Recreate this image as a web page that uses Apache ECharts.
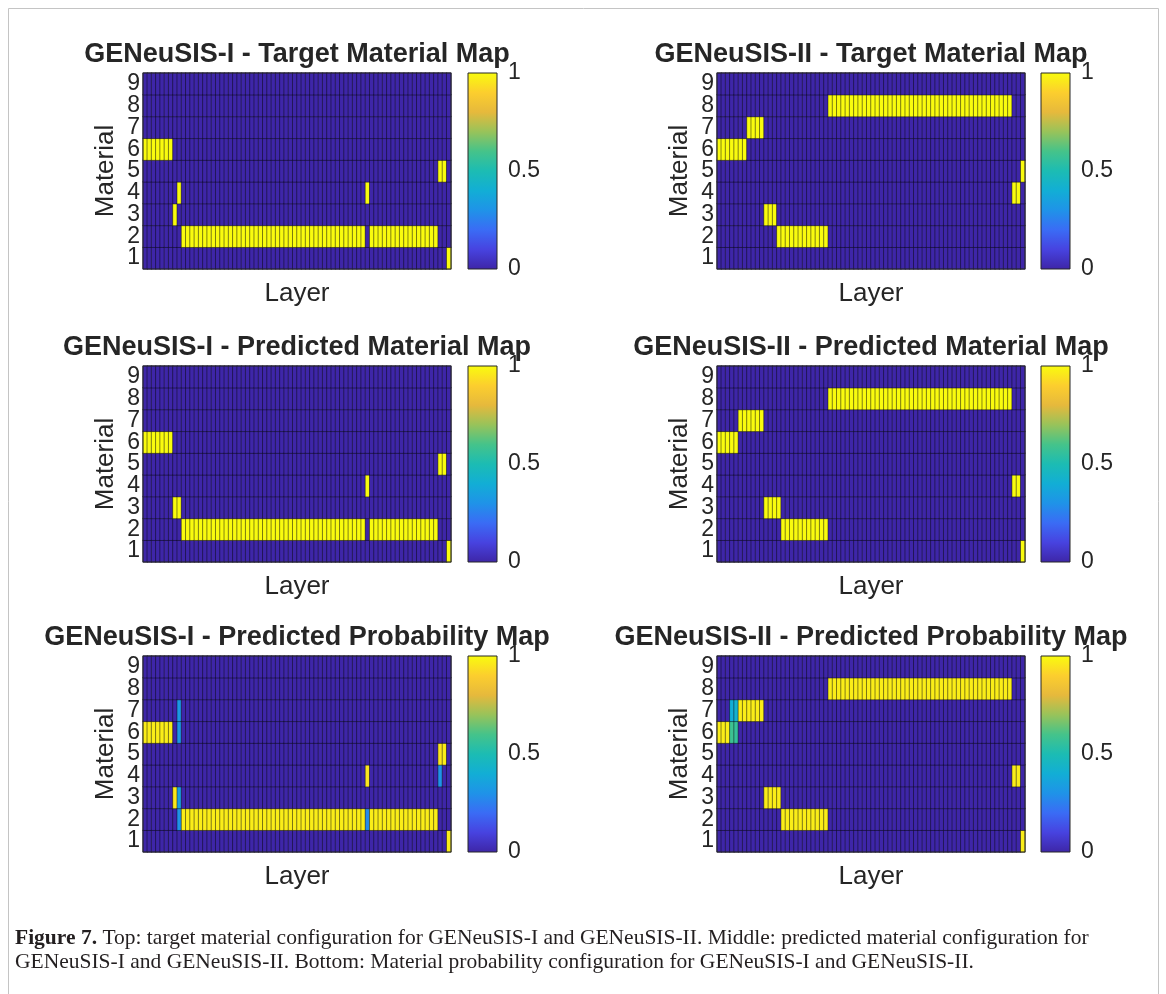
<!DOCTYPE html>
<html>
<head>
<meta charset="utf-8">
<script src="https://cdn.jsdelivr.net/npm/echarts@6/dist/echarts.min.js"></script>
<style>
html,body{margin:0;padding:0;background:#fff;}
#main{width:1166px;height:994px;}
</style>
</head>
<body>
<div id="main"></div>
<script>
// ---------------- DATA ----------------
const materials = ['1','2','3','4','5','6','7','8','9'];
const layerCount = 72;
const colorbarTicks = [0, 0.5, 1];

const titles = [
  'GENeuSIS-I - Target Material Map',
  'GENeuSIS-II - Target Material Map',
  'GENeuSIS-I - Predicted Material Map',
  'GENeuSIS-II - Predicted Material Map',
  'GENeuSIS-I - Predicted Probability Map',
  'GENeuSIS-II - Predicted Probability Map'
];

// material index per layer
const targetI = [
  6,6,6,6,6,6,6,3,4,2,
  2,2,2,2,2,2,2,2,2,2,
  2,2,2,2,2,2,2,2,2,2,
  2,2,2,2,2,2,2,2,2,2,
  2,2,2,2,2,2,2,2,2,2,
  2,2,4,2,2,2,2,2,2,2,
  2,2,2,2,2,2,2,2,2,5,
  5,1
];
const targetII = [
  6,6,6,6,6,6,6,7,7,7,
  7,3,3,3,2,2,2,2,2,2,
  2,2,2,2,2,2,8,8,8,8,
  8,8,8,8,8,8,8,8,8,8,
  8,8,8,8,8,8,8,8,8,8,
  8,8,8,8,8,8,8,8,8,8,
  8,8,8,8,8,8,8,8,8,4,
  4,5
];
const predI = [
  6,6,6,6,6,6,6,3,3,2,
  2,2,2,2,2,2,2,2,2,2,
  2,2,2,2,2,2,2,2,2,2,
  2,2,2,2,2,2,2,2,2,2,
  2,2,2,2,2,2,2,2,2,2,
  2,2,4,2,2,2,2,2,2,2,
  2,2,2,2,2,2,2,2,2,5,
  5,1
];
const predII = [
  6,6,6,6,6,7,7,7,7,7,
  7,3,3,3,3,2,2,2,2,2,
  2,2,2,2,2,2,8,8,8,8,
  8,8,8,8,8,8,8,8,8,8,
  8,8,8,8,8,8,8,8,8,8,
  8,8,8,8,8,8,8,8,8,8,
  8,8,8,8,8,8,8,8,8,4,
  4,1
];
// probability of the predicted (top) material per layer
const probTopI = [
  .97,.97,.97,.97,.97,.97,.97,.96,.35,.97,
  .97,.97,.97,.97,.97,.97,.97,.97,.97,.97,
  .97,.97,.97,.97,.97,.97,.97,.97,.97,.97,
  .97,.97,.97,.97,.97,.97,.97,.97,.97,.97,
  .97,.97,.97,.97,.97,.97,.97,.97,.97,.97,
  .97,.97,.95,.97,.97,.97,.97,.97,.97,.97,
  .97,.97,.97,.97,.97,.97,.97,.97,.97,.95,
  .97,.97
];
const probTopII = [
  .97,.97,.97,.58,.56,.97,.97,.97,.97,.97,
  .97,.97,.97,.97,.97,.97,.97,.97,.97,.97,
  .97,.97,.97,.97,.97,.97,.97,.97,.97,.97,
  .97,.97,.97,.97,.97,.97,.97,.97,.97,.97,
  .97,.97,.97,.97,.97,.97,.97,.97,.97,.97,
  .97,.97,.97,.97,.97,.97,.97,.97,.97,.97,
  .97,.97,.97,.97,.97,.97,.97,.97,.97,.97,
  .97,.97
];
// secondary probabilities: [layer index, material, probability]
const probExtraI = [[8,7,0.32],[8,6,0.32],[8,2,0.3],[52,2,0.28],[69,4,0.3]];
const probExtraII = [[3,7,0.4],[4,7,0.42]];

// parula-like colormap
const parula = ['#3e26a8','#4743e0','#3a6cf5','#1f93e8','#12aed5','#1cbcb3','#45c38a','#98c35a','#e6b93c','#fcce2e','#f9fb0e'];

// ---------------- BUILD ----------------
function mapCells(mat){
  const out=[];
  for(let i=0;i<mat.length;i++) for(let m=1;m<=9;m++) out.push([i,m-1, m===mat[i]?1:0]);
  return out;
}
function probCells(mat, top, extra){
  const out=[];
  for(let i=0;i<mat.length;i++) for(let m=1;m<=9;m++){
    let v = m===mat[i]?top[i]:0;
    extra.forEach(e=>{ if(e[0]===i && e[1]===m) v=e[2]; });
    out.push([i,m-1,v]);
  }
  return out;
}
const panelData = [
  mapCells(targetI), mapCells(targetII),
  mapCells(predI), mapCells(predII),
  probCells(predI, probTopI, probExtraI), probCells(predII, probTopII, probExtraII)
];
const layers = []; for(let i=1;i<=layerCount;i++) layers.push(String(i));

const FONT = 'Liberation Sans, Arial, Helvetica, sans-serif';
const SERIF = 'Liberation Serif, Times New Roman, serif';
const TXT = '#262626';
const lefts = [143, 717];
const cbLefts = [468, 1041];
const tops = [73, 366, 656];
const W = 308, H = 196, CBW = 29;

const grids=[], xAxes=[], yAxes=[], series=[], graphics=[];
for(let p=0;p<6;p++){
  const col=p%2, row=Math.floor(p/2);
  grids.push({left:lefts[col], top:tops[row], width:W, height:H, show:true, z:10,
    borderColor:'#262626', borderWidth:1, backgroundColor:'transparent'});
  xAxes.push({type:'category', gridIndex:p, data:layers, boundaryGap:true,
    axisLabel:{show:false}, axisTick:{show:false}, axisLine:{show:false}, splitLine:{show:false},
    name:'Layer', nameLocation:'middle', nameGap:12,
    nameTextStyle:{fontSize:26, color:TXT, fontFamily:FONT}});
  yAxes.push({type:'category', gridIndex:p, data:materials,
    axisLabel:{fontSize:23, color:TXT, fontFamily:FONT, margin:3, interval:0, hideOverlap:false},
    axisTick:{show:false}, axisLine:{show:false},
    name:'Material', nameLocation:'middle', nameGap:24, nameRotate:90,
    nameTextStyle:{fontSize:26, color:TXT, fontFamily:FONT}});
  series.push({type:'heatmap', xAxisIndex:p, yAxisIndex:p, data:panelData[p], silent:true,
    itemStyle:{borderColor:'rgba(10,10,20,0.6)', borderWidth:0.8}, progressive:0});
  graphics.push({type:'text', x:lefts[col]+W/2, y:tops[row]-18,
    style:{text:titles[p], fontSize:27, fontWeight:'bold', fontFamily:FONT, fill:TXT, align:'center', verticalAlign:'middle'}});
}
// colorbars
const grad = new echarts.graphic.LinearGradient(0,1,0,0, parula.map((c,i)=>({offset:i/(parula.length-1), color:c})));
for(let p=0;p<6;p++){
  const col=p%2, row=Math.floor(p/2);
  const gi = grids.length;
  grids.push({left:cbLefts[col], top:tops[row], width:CBW, height:H, show:true, z:10,
    borderColor:'#262626', borderWidth:1, backgroundColor:'transparent'});
  xAxes.push({type:'category', gridIndex:gi, data:['cb'], show:false});
  yAxes.push({type:'value', gridIndex:gi, position:'right', min:colorbarTicks[0], max:colorbarTicks[2], interval:colorbarTicks[1],
    axisLabel:{fontSize:23, color:TXT, fontFamily:FONT, margin:11, padding:[6,0,0,0]},
    axisTick:{show:false}, axisLine:{show:false}, splitLine:{show:false}});
  series.push({type:'bar', xAxisIndex:gi, yAxisIndex:gi, data:[1], barWidth:'100%', silent:true,
    itemStyle:{color:grad}});
}
// frame + caption
graphics.push({type:'rect', shape:{x:8.5, y:8.5, width:1150, height:1000}, style:{fill:'none', stroke:'#c4c4c4', lineWidth:1}, z:-1});
graphics.push({type:'text', x:15, y:926, style:{
  text:'{b|Figure 7.} Top: target material configuration for GENeuSIS-I and GENeuSIS-II. Middle: predicted material configuration for\nGENeuSIS-I and GENeuSIS-II. Bottom: Material probability configuration for GENeuSIS-I and GENeuSIS-II.',
  fontSize:21.5, fontFamily:SERIF, fill:'#231f20', lineHeight:24,
  rich:{b:{fontWeight:'bold', fontSize:21.5, fontFamily:SERIF, fill:'#231f20', lineHeight:24}}
}});

const chart = echarts.init(document.getElementById('main'), null, {renderer:'canvas'});
chart.setOption({
  animation:false,
  backgroundColor:'#ffffff',
  grid:grids, xAxis:xAxes, yAxis:yAxes,
  visualMap:{type:'continuous', show:false, min:0, max:1, seriesIndex:[0,1,2,3,4,5], inRange:{color:parula}},
  series:series,
  graphic:graphics
});
</script>
</body>
</html>
